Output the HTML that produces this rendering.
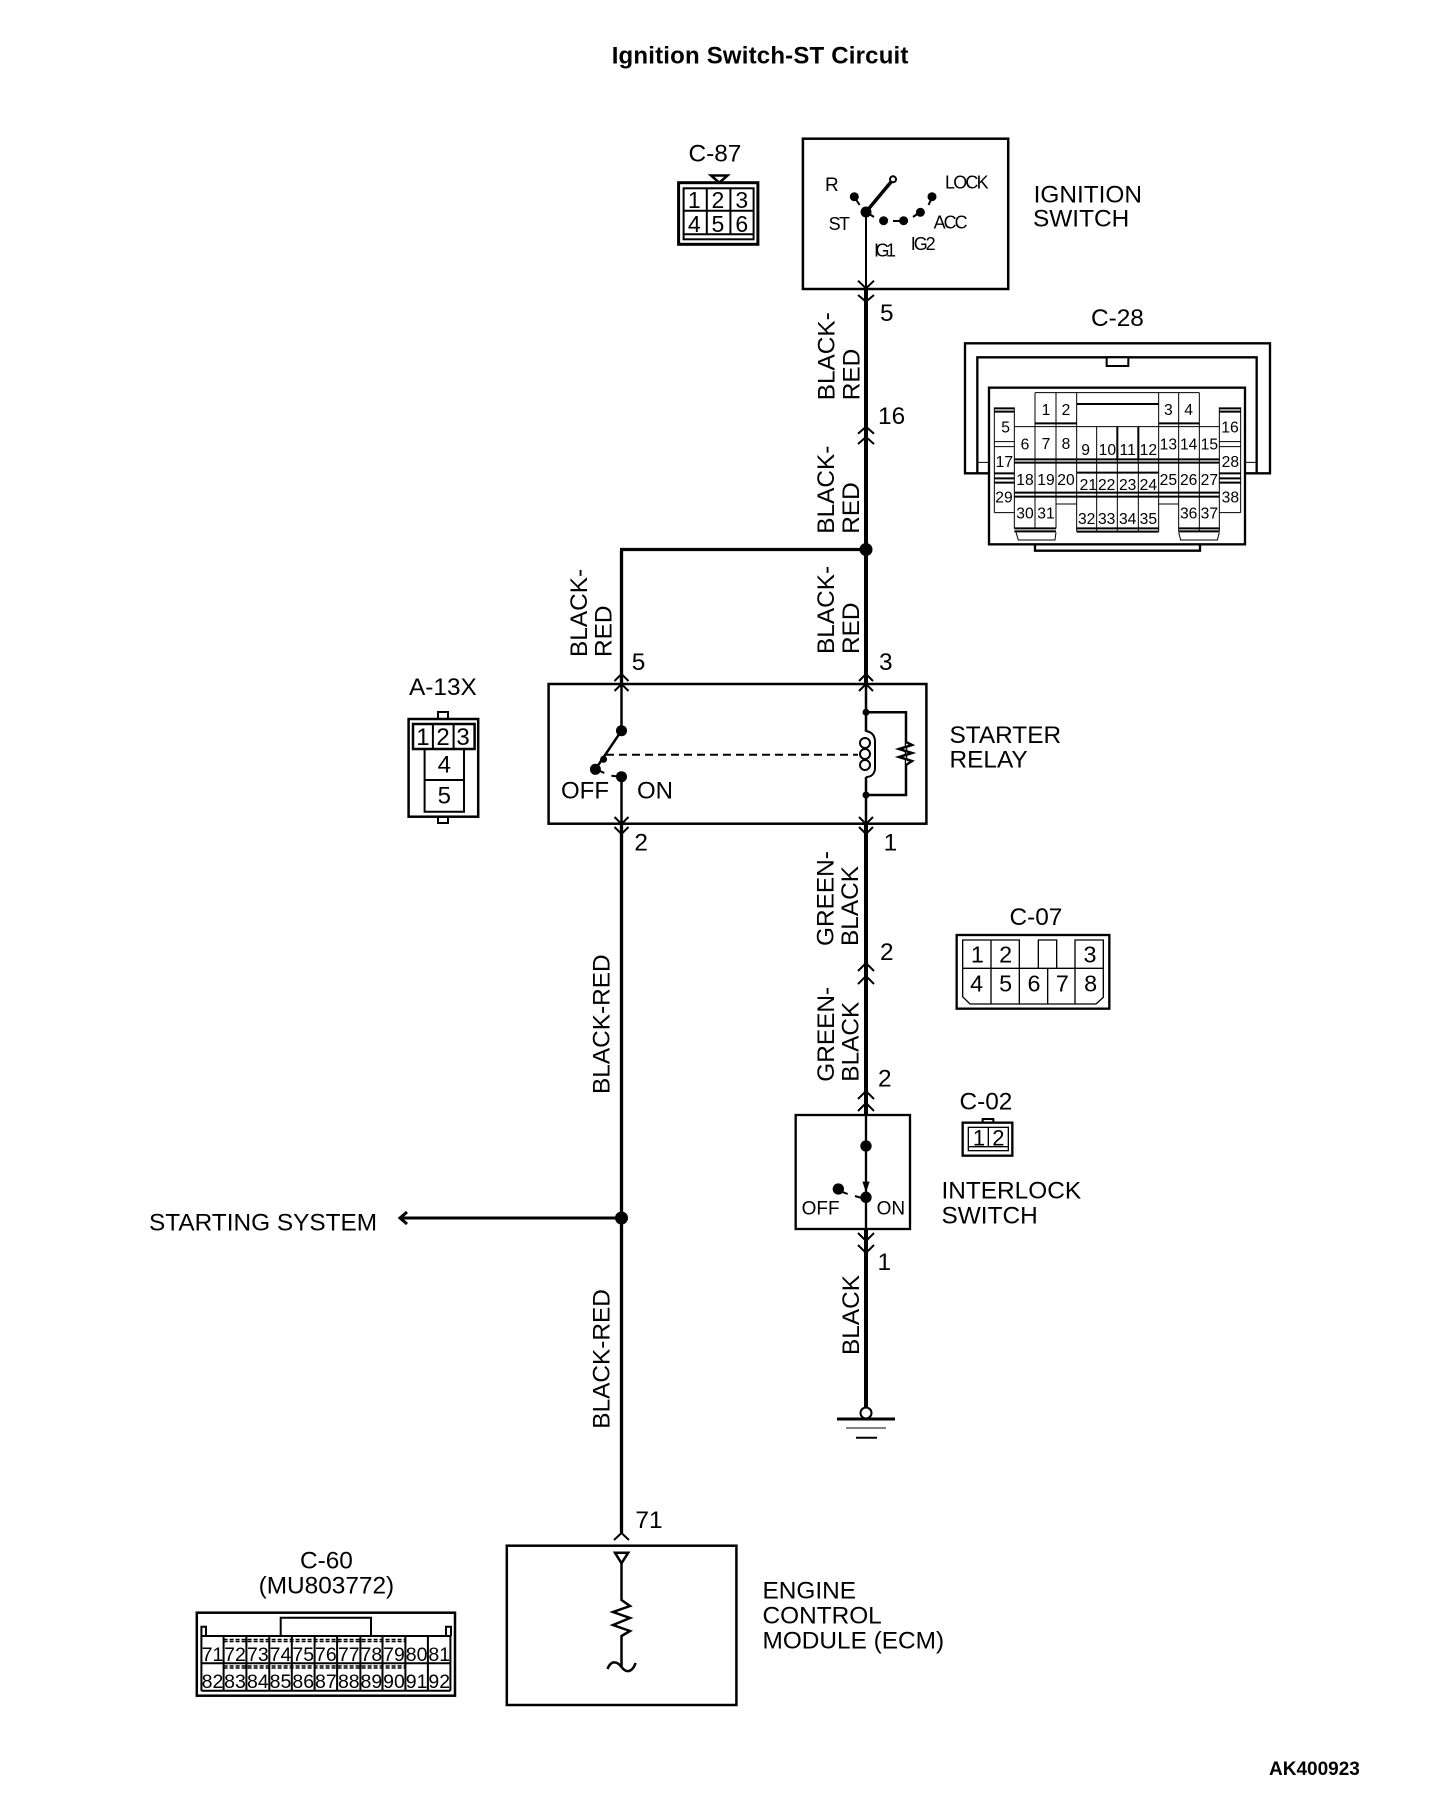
<!DOCTYPE html>
<html><head><meta charset="utf-8"><title>Ignition Switch-ST Circuit</title>
<style>
html,body{margin:0;padding:0;background:#fff}
svg{display:block}
.s{fill:none;stroke:#000;stroke-width:2.5}
.w{fill:none;stroke:#000;stroke-width:4}
.w3{fill:none;stroke:#000;stroke-width:3.3}
.t{fill:none;stroke:#000;stroke-width:2}
.d{fill:#000;stroke:none}
text{font-family:"Liberation Sans",sans-serif;fill:#000;stroke:none;font-size:24.4px}
.m{text-anchor:middle}
</style></head><body>
<svg width="1456" height="1798" viewBox="0 0 1456 1798" xmlns="http://www.w3.org/2000/svg">
<rect width="1456" height="1798" fill="#fff"/>
<text x="611.7" y="63.3" textLength="296.7" style="font-weight:bold;font-size:24px">Ignition Switch-ST Circuit</text>
<text x="1269" y="1775" style="font-weight:bold;font-size:19px">AK400923</text>

<!-- wires -->
<path class="w" d="M866 289V684M866 824V1115M866 1229V1408"/>
<path class="w3" d="M621.500 551V684M620 549.500H866M621.500 824V1533"/>
<circle class="d" cx="866" cy="549.5" r="6.5"/>
<circle class="d" cx="621.5" cy="1218" r="6.5"/>
<path class="s" style="stroke-width:3" d="M400 1218H621M407 1212L400 1218L407 1224"/>
<!-- chevrons -->
<path class="t" d="M858 280.700L866 288.300L874 280.700M858 295L866 301.700L874 295"/>
<path class="t" d="M858 433.700L866 426.700L874 433.700M858 444L866 437L874 444"/>
<path class="t" d="M859 681L866 674L873 681M859 691L866 684L873 691M614.500 681L621.500 674L628.500 681M614.500 691L621.500 684L628.500 691"/>
<path class="t" d="M859 817L866 824L873 817M859 827L866 834L873 827M614.500 817L621.500 824L628.500 817M614.500 827L621.500 834L628.500 827"/>
<path class="t" d="M858 971L866 963L874 971M858 984L866 976L874 984"/>
<path class="t" d="M858 1099L866 1091L874 1099M858 1111L866 1103L874 1111"/>
<path class="t" d="M858 1233L866 1241L874 1233M858 1245L866 1253L874 1245"/>
<path class="t" d="M614 1540L621.500 1533L629 1540"/>

<!-- ground -->
<circle cx="866" cy="1413" r="5.500" fill="#fff" stroke="#000" stroke-width="2"/>
<path style="stroke:#000;fill:none;stroke-width:3" d="M837 1419H895"/>
<path style="stroke:#000;fill:none;stroke-width:1" d="M846 1428H886"/>
<path style="stroke:#000;fill:none;stroke-width:2" d="M856 1437.700H877"/>

<!-- wire labels -->
<text transform="translate(834.7 400.3) rotate(-90)">BLACK-</text>
<text transform="translate(859.4 400.3) rotate(-90)">RED</text>
<text transform="translate(834 533.7) rotate(-90)">BLACK-</text>
<text transform="translate(859 533.7) rotate(-90)">RED</text>
<text transform="translate(834 654) rotate(-90)">BLACK-</text>
<text transform="translate(859 654) rotate(-90)">RED</text>
<text transform="translate(587 657) rotate(-90)">BLACK-</text>
<text transform="translate(611.7 657) rotate(-90)">RED</text>
<text transform="translate(833.3 946) rotate(-90)">GREEN-</text>
<text transform="translate(857.8 946) rotate(-90)">BLACK</text>
<text transform="translate(834 1081.7) rotate(-90)">GREEN-</text>
<text transform="translate(858.5 1081.7) rotate(-90)">BLACK</text>
<text transform="translate(859 1355) rotate(-90)">BLACK</text>
<text transform="translate(609.7 1094) rotate(-90)">BLACK-RED</text>
<text transform="translate(609.7 1428.7) rotate(-90)">BLACK-RED</text>
<text x="880" y="321">5</text>
<text x="878" y="424">16</text>
<text x="631.7" y="670">5</text>
<text x="879" y="670">3</text>
<text x="634.4" y="850.7">2</text>
<text x="883.6" y="850.7">1</text>
<text x="880" y="960">2</text>
<text x="878" y="1086.7">2</text>
<text x="877.5" y="1270">1</text>
<text x="635.4" y="1528">71</text>
<text x="149" y="1230.7">STARTING SYSTEM</text>

<!-- Ignition switch -->
<rect class="s" x="802.9" y="138.700" width="205.300" height="150.300"/>
<path class="t" d="M866 212V289"/>
<path class="s" style="stroke-width:3.500" d="M866 212L891 182"/>
<circle cx="893" cy="179.300" r="3" fill="#fff" stroke="#000" stroke-width="2"/>
<circle class="d" cx="866" cy="212" r="5.500"/>
<circle class="d" cx="854.300" cy="196.700" r="4.500"/>
<circle class="d" cx="883.600" cy="220.700" r="4.500"/>
<circle class="d" cx="903.600" cy="220.700" r="4.500"/>
<circle class="d" cx="920.400" cy="212.300" r="4.500"/>
<circle class="d" cx="932" cy="196.700" r="4.500"/>
<path class="t" d="M854.300 197L859.600 205M866 212L874 217M893 221H903M913 217L920 212M932 197L928.600 205"/>
<text x="825" y="191" style="font-size:19px">R</text>
<text x="945" y="188.3" style="font-size:18px" textLength="43.600">LOCK</text>
<text x="828.6" y="230" style="font-size:18px" textLength="21.400">ST</text>
<text x="933.6" y="228.3" style="font-size:18px" textLength="34">ACC</text>
<text x="874" y="256.7" style="font-size:18px" textLength="22">IG1</text>
<text x="910.7" y="250" style="font-size:18px" textLength="25">IG2</text>
<text x="1033.6" y="202.7">IGNITION</text>
<text x="1033" y="226.7">SWITCH</text>

<!-- C-87 -->
<text x="688.500" y="161.7">C-87</text>
<path style="fill:#fff;stroke:#000;stroke-width:2.500" d="M711 175.500H727.500L719.300 182.700Z"/>
<rect style="fill:none;stroke:#000;stroke-width:3" x="678.600" y="182.700" width="79.300" height="61.600"/>
<rect class="t" x="683.600" y="188.300" width="70" height="51"/>
<path class="t" d="M683.600 210.700H753.600M683.600 234.300H753.600M706.800 188.300V234.300M730.400 188.300V234.300"/>
<text class="m" x="694.3" y="208" style="font-size:23px">1</text>
<text class="m" x="717.9" y="208" style="font-size:23px">2</text>
<text class="m" x="741.8" y="208" style="font-size:23px">3</text>
<text class="m" x="694.3" y="232" style="font-size:23px">4</text>
<text class="m" x="717.9" y="232" style="font-size:23px">5</text>
<text class="m" x="741.8" y="232" style="font-size:23px">6</text>

<!-- C-28 -->
<text x="1091" y="326">C-28</text>
<g transform="translate(940 300) scale(.33333)">
<path style="fill:none;stroke:#000;stroke-width:7" d="M147 520H75V130H990V520H915M112 520V172H950V520"/>
<path style="fill:none;stroke:#000;stroke-width:3" d="M112 487H147M915 487H950"/>
<rect style="fill:#fff;stroke:#000;stroke-width:6" x="500" y="172" width="65" height="26"/>
<rect style="fill:#fff;stroke:#000;stroke-width:7" x="147" y="263" width="768" height="470"/>
<path style="fill:none;stroke:#000;stroke-width:7" d="M285 733V752H780V733"/>
<path style="fill:none;stroke:#000;stroke-width:3" d="M285 278H778M223 380H838M223 380V685M285 278V685M348 278V685M410 278V695M470 380V695M532 380V695M595 380V695M656 278V695M716 278V695M778 278V695M838 380V695M348 612H410M656 612H716M163 322V638M223 322V638M163 425H223M163 440H223M163 638H223M838 322V638M902 322V638M838 425H902M838 440H902M838 638H902M228 697L235 720H345L348 697M716 697L722 720H832L838 697"/>
<path style="fill:none;stroke:#000;stroke-width:6" d="M410 312H656M285 370H410M656 370H778M223 478H838M223 488H838M223 578H838M223 590H838M410 518H656M223 685H348M223 694H348M716 685H838M716 694H838M410 685H656M410 695H656M163 325H223M163 335H223M838 325H902M838 335H902M163 520H223M163 535H223M163 548H223M838 520H902M838 535H902M838 548H902M532 380V478M595 380V478"/>
<text class="m" style="font-size:47px" x="318" y="345">1</text><text class="m" style="font-size:47px" x="378" y="345">2</text><text class="m" style="font-size:47px" x="685" y="345">3</text><text class="m" style="font-size:47px" x="746" y="345">4</text>
<text class="m" style="font-size:47px" x="197" y="397">5</text><text class="m" style="font-size:47px" x="870" y="398">16</text>
<text class="m" style="font-size:47px" x="255" y="448">6</text><text class="m" style="font-size:47px" x="318" y="447">7</text><text class="m" style="font-size:47px" x="378" y="447">8</text><text class="m" style="font-size:47px" x="437" y="465">9</text><text class="m" style="font-size:47px" x="502" y="465">10</text><text class="m" style="font-size:47px" x="563" y="465">11</text><text class="m" style="font-size:47px" x="625" y="465">12</text><text class="m" style="font-size:47px" x="685" y="448">13</text><text class="m" style="font-size:47px" x="746" y="448">14</text><text class="m" style="font-size:47px" x="808" y="448">15</text>
<text class="m" style="font-size:47px" x="193" y="501">17</text><text class="m" style="font-size:47px" x="871" y="501">28</text>
<text class="m" style="font-size:47px" x="255" y="555">18</text><text class="m" style="font-size:47px" x="318" y="555">19</text><text class="m" style="font-size:47px" x="378" y="555">20</text><text class="m" style="font-size:47px" x="445" y="570">21</text><text class="m" style="font-size:47px" x="500" y="570">22</text><text class="m" style="font-size:47px" x="563" y="570">23</text><text class="m" style="font-size:47px" x="625" y="570">24</text><text class="m" style="font-size:47px" x="685" y="555">25</text><text class="m" style="font-size:47px" x="746" y="555">26</text><text class="m" style="font-size:47px" x="808" y="555">27</text>
<text class="m" style="font-size:47px" x="192" y="607">29</text><text class="m" style="font-size:47px" x="871" y="607">38</text>
<text class="m" style="font-size:47px" x="255" y="655">30</text><text class="m" style="font-size:47px" x="318" y="655">31</text><text class="m" style="font-size:47px" x="440" y="672">32</text><text class="m" style="font-size:47px" x="500" y="672">33</text><text class="m" style="font-size:47px" x="563" y="672">34</text><text class="m" style="font-size:47px" x="625" y="672">35</text><text class="m" style="font-size:47px" x="746" y="655">36</text><text class="m" style="font-size:47px" x="808" y="655">37</text>
</g>

<!-- A-13X -->
<text x="409" y="695">A-13X</text>
<rect class="t" x="438" y="712" width="10" height="7"/>
<rect class="t" x="438" y="817" width="10" height="6"/>
<rect style="fill:#fff;stroke:#000;stroke-width:2.500" x="408.600" y="719" width="69.600" height="97.700"/>
<rect class="s" x="413" y="724" width="61.600" height="25"/>
<path class="t" d="M432.900 724V749M453.600 724V749M424.600 749V811.700H464V749M424.600 780H464"/>
<text class="m" x="422.9" y="745" style="font-size:24px">1</text>
<text class="m" x="443" y="745" style="font-size:24px">2</text>
<text class="m" x="463" y="745" style="font-size:24px">3</text>
<text class="m" x="444.3" y="772.3" style="font-size:24px">4</text>
<text class="m" x="444.3" y="803.3" style="font-size:24px">5</text>

<!-- Starter relay -->
<rect class="s" x="548.600" y="684" width="377.800" height="139.700"/>
<path class="s" d="M621.500 684V730.700M621.500 776.700V824M866 684V731.700M866 777V824"/>
<path class="s" d="M621.500 730.700L595.400 769.300"/>
<circle class="d" cx="621.5" cy="730.7" r="5.500"/>
<circle class="d" cx="595.4" cy="769.3" r="5.500"/>
<circle class="d" cx="603.6" cy="759.3" r="3.500"/>
<circle class="d" cx="621.5" cy="776.7" r="5.500"/>
<path class="t" d="M611.400 775.700L621 776.700M595.400 769L604.300 773"/>
<path class="t" d="M606 754.700H858" style="stroke-dasharray:8 5"/>
<circle class="d" cx="866" cy="712.3" r="3.500"/>
<circle class="d" cx="866" cy="795" r="3.500"/>
<path class="s" d="M866 712.300H906V795H866"/>
<path style="fill:#fff;stroke:#000;stroke-width:2.500" d="M906 742L912 745L899 749L912 753L899 757L912 761L906 765"/>
<path class="t" d="M866 731C872 732 875 736 875 742V768C875 773 872 777 866 777"/>
<ellipse cx="865" cy="743" rx="5" ry="5" fill="none" stroke="#000" stroke-width="2"/>
<ellipse cx="865" cy="754" rx="5" ry="5" fill="none" stroke="#000" stroke-width="2"/>
<ellipse cx="865" cy="765" rx="5" ry="5" fill="none" stroke="#000" stroke-width="2"/>
<text x="561" y="798.3" style="font-size:24px">OFF</text>
<text x="637" y="798.3" style="font-size:24px">ON</text>
<text x="949.500" y="743">STARTER</text>
<text x="949.500" y="767.500">RELAY</text>

<!-- C-07 / C-02 / Interlock (zoom space) -->
<text x="1009.500" y="925">C-07</text>
<text x="959.500" y="1109.3">C-02</text>
<g transform="translate(780 890) scale(.33333)">
<rect style="fill:none;stroke:#000;stroke-width:7" x="530" y="135" width="458" height="221"/>
<path style="fill:none;stroke:#000;stroke-width:4" d="M718 235V150H548V320L570 342H948L970 322V150H885V235M548 235H970M633 150V342M718 235V342M803 235V342M885 235V342M775 235V150H830V235"/>
<text class="m" style="font-size:70px" x="592" y="218">1</text><text class="m" style="font-size:70px" x="677" y="218">2</text><text class="m" style="font-size:70px" x="930" y="218">3</text><text class="m" style="font-size:70px" x="590" y="305">4</text><text class="m" style="font-size:70px" x="677" y="305">5</text><text class="m" style="font-size:70px" x="762" y="305">6</text><text class="m" style="font-size:70px" x="847" y="305">7</text><text class="m" style="font-size:70px" x="932" y="305">8</text>
<rect style="fill:none;stroke:#000;stroke-width:6" x="608" y="687" width="32" height="11"/>
<rect style="fill:#fff;stroke:#000;stroke-width:7" x="548" y="698" width="149" height="99"/>
<rect style="fill:none;stroke:#000;stroke-width:4" x="565" y="712" width="120" height="70"/>
<path style="fill:none;stroke:#000;stroke-width:4" d="M565 770H685M625 712V770"/>
<text class="m" style="font-size:66px" x="597" y="767">1</text><text class="m" style="font-size:66px" x="655" y="767">2</text>
<rect style="fill:none;stroke:#000;stroke-width:7" x="47" y="675" width="343" height="342"/>
<path style="fill:none;stroke:#000;stroke-width:7" d="M258 675V1017"/>
<circle class="d" cx="258" cy="768" r="17"/>
<circle class="d" cx="258" cy="922" r="17"/>
<circle class="d" cx="175" cy="897" r="17"/>
<path class="d" d="M247 875H269L258 907Z"/>
<path style="fill:none;stroke:#000;stroke-width:6" d="M185 905L203 912M225 918L258 928"/>
<text style="font-size:57px" x="65" y="973">OFF</text>
<text style="font-size:57px" x="290" y="973">ON</text>
</g>
<text x="941.500" y="1198.3">INTERLOCK</text>
<text x="941.500" y="1223.3">SWITCH</text>

<!-- ECM -->
<rect class="s" x="506.800" y="1545.700" width="229.600" height="159.300"/>
<path style="fill:#fff;stroke:#000;stroke-width:2.500" d="M615 1552.700H628.200L621.500 1563.300Z"/>
<path class="s" d="M621.500 1563.300V1600L630 1606L613 1612L630 1618L613 1625L630 1631L621.500 1636V1667"/>
<path class="s" d="M607.500 1669C611 1660 617 1661 621.500 1667C626 1673 632 1673 635.600 1663"/>
<text x="762.500" y="1598.3">ENGINE</text>
<text x="762.500" y="1623.3">CONTROL</text>
<text x="762.500" y="1648.3">MODULE (ECM)</text>

<!-- C-60 -->
<text class="m" x="326.4" y="1568.3">C-60</text>
<text class="m" x="326.4" y="1593.3">(MU803772)</text>
<rect class="s" x="196.800" y="1612.700" width="258.200" height="83"/>
<path class="t" d="M280.700 1636V1617.700H371V1636M201.400 1636V1626.700H206V1636M446 1636V1626.700H451V1636"/>
<path class="t" d="M201.400 1636H450.400M201.400 1663.300H450.400M201.400 1690.700H450.400M201.400 1636V1690.700M223.600 1636V1690.700M246.400 1636V1690.700M269.300 1636V1690.700M291.800 1636V1690.700M314.600 1636V1690.700M337.100 1636V1690.700M360.400 1636V1690.700M382.500 1636V1690.700M405.400 1636V1690.700M427.900 1636V1690.700M450.400 1636V1690.700"/>
<path style="fill:none;stroke:#000;stroke-width:1.500;stroke-dasharray:4 2" d="M223.600 1639.500H405.400M223.600 1641.500H405.400M223.600 1666H405.400M223.600 1668H405.400"/>
<text class="m" style="font-size:19.500px" x="212.500" y="1661">71</text><text class="m" style="font-size:19.500px" x="235" y="1661">72</text><text class="m" style="font-size:19.500px" x="257.900" y="1661">73</text><text class="m" style="font-size:19.500px" x="280.500" y="1661">74</text><text class="m" style="font-size:19.500px" x="303.200" y="1661">75</text><text class="m" style="font-size:19.500px" x="325.900" y="1661">76</text><text class="m" style="font-size:19.500px" x="348.800" y="1661">77</text><text class="m" style="font-size:19.500px" x="371.400" y="1661">78</text><text class="m" style="font-size:19.500px" x="394" y="1661">79</text><text class="m" style="font-size:19.500px" x="416.600" y="1661">80</text><text class="m" style="font-size:19.500px" x="439.200" y="1661">81</text>
<text class="m" style="font-size:19.500px" x="212.500" y="1688">82</text><text class="m" style="font-size:19.500px" x="235" y="1688">83</text><text class="m" style="font-size:19.500px" x="257.900" y="1688">84</text><text class="m" style="font-size:19.500px" x="280.500" y="1688">85</text><text class="m" style="font-size:19.500px" x="303.200" y="1688">86</text><text class="m" style="font-size:19.500px" x="325.900" y="1688">87</text><text class="m" style="font-size:19.500px" x="348.800" y="1688">88</text><text class="m" style="font-size:19.500px" x="371.400" y="1688">89</text><text class="m" style="font-size:19.500px" x="394" y="1688">90</text><text class="m" style="font-size:19.500px" x="416.600" y="1688">91</text><text class="m" style="font-size:19.500px" x="439.200" y="1688">92</text>
</svg>
</body></html>
